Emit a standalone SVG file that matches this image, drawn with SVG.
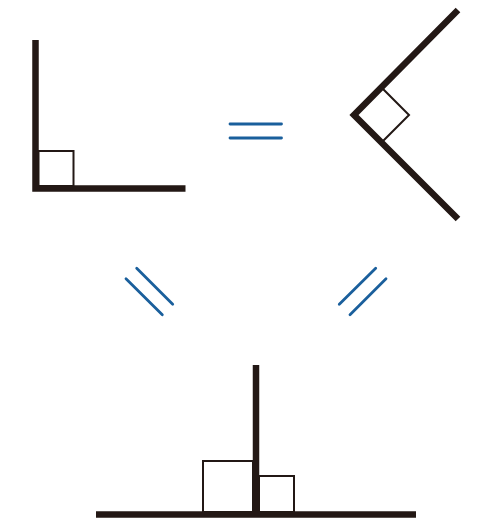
<svg xmlns="http://www.w3.org/2000/svg" width="500" height="524" viewBox="0 0 500 524">
<style>
.thick{fill:none;stroke:#231815;stroke-width:6.5;stroke-linejoin:miter;stroke-linecap:butt}
.thin{fill:none;stroke:#231815;stroke-width:2}
.eq{fill:none;stroke:#1a5f9c;stroke-width:2.8;stroke-linecap:round}
</style>
<rect width="500" height="524" fill="#ffffff"/>
<g id="angle-upright">
<rect class="thin" x="38.5" y="151" width="35" height="35"/>
<path class="thick" d="M35.5 40 V188.5 H185.5"/>
</g>
<g id="angle-rotated">
<path class="thin" d="M355 115 L382 88 L409 115 L382 142 Z"/>
<path class="thick" d="M458 10 L354 115 L458 219"/>
</g>
<g id="angle-split">
<rect class="thin" x="203" y="461" width="50" height="51"/>
<rect class="thin" x="259" y="476" width="35" height="36"/>
<path class="thick" d="M256 365 V512"/>
<path class="thick" d="M96 514.5 H416"/>
</g>
<g id="connectors">
<path class="eq" d="M230 124 H281.5 M230 138 H281.5"/>
<path class="eq" d="M126 278.7 L162.3 314.7 M136.7 268.3 L172.7 304.3"/>
<path class="eq" d="M375.7 268.3 L339.3 304.3 M386 278.7 L350 314.7"/>
</g>
</svg>
